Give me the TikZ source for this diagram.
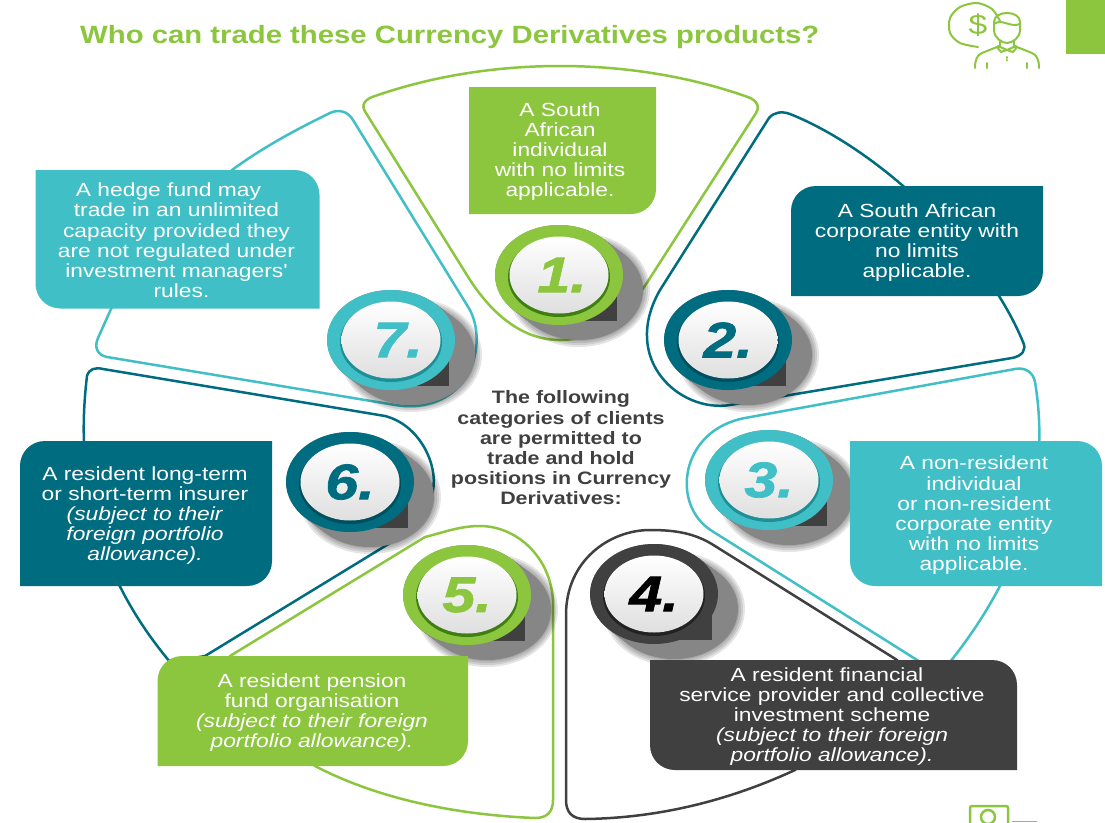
\documentclass[tikz,border=0pt]{standalone}
\usepackage{fontspec}
\setmainfont{Liberation Sans}
\newfontfamily\bodyf{Liberation Sans}[FakeStretch=1.2]
\newfontfamily\boldf{Liberation Sans}[FakeStretch=1.19]
\newfontfamily\titlef{Liberation Sans}[FakeStretch=1.172]
\newfontfamily\numf{Liberation Sans}[FakeStretch=1.18,BoldItalicFeatures={FakeBold=1.5}]
\definecolor{cgreen}{HTML}{8CC63F}
\definecolor{cteal}{HTML}{006C80}
\definecolor{clight}{HTML}{41BFC6}
\definecolor{cdark}{HTML}{404040}
\definecolor{cgreend}{HTML}{3F7F12}
\definecolor{ctealD}{HTML}{004F5E}
\definecolor{clightD}{HTML}{1E8F96}
\definecolor{cdarkD}{HTML}{222222}
\tikzset{
  x=1pt,y=-1pt,
  petal/.style={line width=2.5pt,line join=round},
  boxtext/.style={text=white,align=center,inner sep=0pt,font=\bodyf\fontsize{19}{20.2}\selectfont},
  icon/.style={draw=cgreen,line width=2pt,line cap=round,line join=round},
}
% top-left + bottom-right rounded
\newcommand{\boxTLBR}[5]{\fill[#5] (#1,#4) -- (#1,{#2+25}) .. controls (#1,{#2+11}) and ({#1+11},#2) .. ({#1+25},#2) -- (#3,#2) -- (#3,{#4-25}) .. controls (#3,{#4-11}) and ({#3-11},#4) .. ({#3-25},#4) -- cycle;}
% top-right + bottom-left rounded
\newcommand{\boxTRBL}[5]{\fill[#5] (#1,#2) -- ({#3-25},#2) .. controls ({#3-11},#2) and (#3,{#2+11}) .. (#3,{#2+25}) -- (#3,#4) -- ({#1+25},#4) .. controls ({#1+11},#4) and (#1,{#4-11}) .. (#1,{#4-25}) -- cycle;}
\newcommand{\badge}[7]{%
  \foreach \r in {7,5,3,1}{\fill[black,opacity=.10] ({#1+20},{#2+15}) ellipse [x radius=64+\r,y radius=50+\r];}
  \foreach \k in {0,1,...,20}{\fill[gray!95] ({#1+\k},{#2+.75*\k}) ellipse [x radius=64,y radius=50];}
  \fill[cdark] (#1,#2) rectangle ({#1+58},{#2+46});
  \fill[#3] (#1,#2) ellipse [x radius=64,y radius=50];
  \fill[#4] (#1,{#2+2}) ellipse [x radius=51,y radius=40];
  \shade[top color=white,bottom color=gray!25] (#1,#2) ellipse [x radius=49.5,y radius=38.5];
  \node[#5,inner sep=0pt,font=\numf\bfseries\itshape\fontsize{50}{50}\selectfont] (#7) at (#1,#2) {#6};
}
\begin{document}
\begin{tikzpicture}
\useasboundingbox (0,0) rectangle (1105,822);
\clip (0,0) rectangle (1105,822);
\fill[white] (0,0) rectangle (1105,822);
\fill[cgreen] (1066,0) rectangle (1105,54);

% title
\node[anchor=west,text=cgreen,inner sep=0pt,font=\titlef\bfseries\fontsize{25}{28}\selectfont] (title) at (80,37) {Who can trade these Currency Derivatives products?};

% top icon
\draw[icon] plot[smooth] coordinates {(1000,21) (992,9) (977,3) (960,7) (950,18) (950,33) (960,43) (978,47)};
\node[text=cgreen,inner sep=0pt,font=\bodyf\fontsize{28}{28}\selectfont] (dollar) at (978,25) {\$};
\draw[icon] (994,22) .. controls (994,10) and (1020,10) .. (1020,22) -- (1020,30) .. controls (1020,38) and (1012,43) .. (1007,43) .. controls (1002,43) and (994,38) .. (994,30) -- cycle;
\draw[icon] (994,24) .. controls (1002,18) and (1010,28) .. (1020,24);
\draw[icon] (1000,41) -- (1000,47) (1014,41) -- (1014,47);
\draw[icon] (998,46) -- (1007,50) -- (1016,46) (1007,50) -- (1001,52) -- (997,47) (1007,50) -- (1013,52) -- (1017,47);
\draw[icon] (997,47) -- (982,53) .. controls (977,55) and (975,60) .. (975,68);
\draw[icon] (1017,47) -- (1032,53) .. controls (1037,55) and (1039,60) .. (1039,68);
\draw[icon] (987,63) -- (987,68) (1027,63) -- (1027,68) (1007,57) -- (1007,58) (1007,60) -- (1007,60.5);

% bottom icon
\draw[draw=cgreen,line width=2.5pt,rounded corners=2pt] (970,824) -- (970,806) -- (1008,806) -- (1008,824);
\draw[draw=cgreen,line width=2.5pt] (988,817) circle [radius=7];
\fill[cgreen] (1012,821) rectangle (1037,822);

% petals
\draw[petal,cgreen] (375,96) .. controls (490,56) and (630,56) .. (745,96) .. controls (755,99) and (761,105) .. (756,113) -- (650,278) .. controls (625,318) and (595,340) .. (560,340) .. controls (525,340) and (495,318) .. (470,280) -- (366,113) .. controls (360,105) and (365,99) .. (375,96) -- cycle;
\draw[petal,cteal] (769,118) .. controls (774,112) and (782,111) .. (790,114) .. controls (880,150) and (985,250) .. (1023,342) .. controls (1027,350) and (1022,356) .. (1012,358) -- (730,405) .. controls (680,413) and (620,360) .. (660,290) -- cycle;
\draw[petal,clight] (1015,369) .. controls (1025,367) and (1033,372) .. (1035,382) .. controls (1048,460) and (1035,555) .. (950,662) -- (925,665) -- (712,531) .. controls (670,505) and (680,430) .. (745,418) -- cycle;
\draw[petal,cdark] (566,800) -- (566,615) .. controls (566,560) and (610,530) .. (650,530) .. controls (675,530) and (695,533) .. (715,546) -- (897,660) -- (795,770) .. controls (730,800) and (660,818) .. (585,819) .. controls (572,819) and (566,812) .. (566,800) -- cycle;
\draw[petal,cgreen] (553,800) -- (553,600) .. controls (550,555) and (515,526) .. (480,526) .. controls (460,526) and (445,532) .. (425,537) -- (230,656) -- (315,766) .. controls (380,800) and (460,815) .. (535,818) .. controls (547,818) and (553,812) .. (553,800) -- cycle;
\draw[petal,cteal] (87,376) .. controls (89,369) and (95,367) .. (103,369) -- (385,416) .. controls (420,425) and (438,465) .. (433,490) .. controls (430,515) and (410,530) .. (395,540) -- (205,656) -- (170,662) .. controls (110,590) and (72,500) .. (87,376) -- cycle;
\draw[petal,clight] (330,113) .. controls (338,109) and (348,111) .. (353,120) -- (470,310) .. controls (490,350) and (465,416) .. (395,405) -- (107,357) .. controls (97,355) and (94,347) .. (98,338) -- (111,309) -- (232,170) .. controls (262,148) and (295,130) .. (330,113) -- cycle;

% badges
\badge{559}{275}{cgreen}{cgreend}{cgreen}{\hspace*{6pt}1.}{n1}
\badge{728}{340}{cteal}{ctealD}{cteal}{2.}{n2}
\badge{769}{480}{clight}{clightD}{clight}{3.}{n3}
\badge{654}{594}{cdark}{cdarkD}{black}{4.}{n4}
\badge{467}{595}{cgreen}{cgreend}{cgreen}{5.}{n5}
\badge{350}{482}{cteal}{ctealD}{cteal}{6.}{n6}
\badge{391}{340}{clight}{clightD}{clight}{\hspace*{14pt}7.}{n7}

% boxes
\fill[cgreen] (469,87) -- (656,87) -- (656,189) .. controls (656,203) and (645,214) .. (631,214) -- (469,214) -- cycle;
\boxTLBR{791}{186}{1043}{296}{cteal}
\boxTRBL{850}{441}{1102}{586}{clight}
\boxTRBL{650}{660}{1017}{770}{cdark}
\boxTLBR{157.5}{656}{468}{766}{cgreen}
\boxTLBR{20}{441}{272}{586}{cteal}
\boxTRBL{35.5}{170}{319.5}{308.5}{clight}

% texts
\node[boxtext] (t1) at (560,151.5) {A South\\African\\individual\\with no limits\\applicable.};
\node[boxtext] (t2) at (917,242.5) {A South African\\corporate entity with\\no limits\\applicable.};
\node[boxtext] (t3) at (974,515.5) {A non-resident\\individual\\or non-resident\\corporate entity\\with no limits\\applicable.};
\node[boxtext] (t4) at (832,716.5) {A resident financial\hspace*{10pt}\\service provider and collective\\investment scheme\\\textit{(subject to their foreign}\\\textit{portfolio allowance).}};
\node[boxtext] (t5) at (312,712.5) {A resident pension\\fund organisation\\\textit{(subject to their foreign}\\\textit{portfolio allowance).}};
\node[boxtext] (t6) at (145,515.5) {A resident long-term\\or short-term insurer\\\textit{(subject to their}\\\textit{foreign portfolio}\\\textit{allowance).}};
\node[boxtext] (t7) at (176.5,240.5) {A hedge fund may\hspace*{16pt}\\trade in an unlimited\\capacity provided they\\are not regulated under\\investment managers'\\\hspace*{10pt}rules.};
\node[boxtext,text=cdark,font=\boldf\bfseries\fontsize{18}{20.2}\selectfont] (center) at (561,448) {The following\\categories of clients\\are permitted to\\trade and hold\\positions in Currency\\Derivatives:};
\end{tikzpicture}
\end{document}
